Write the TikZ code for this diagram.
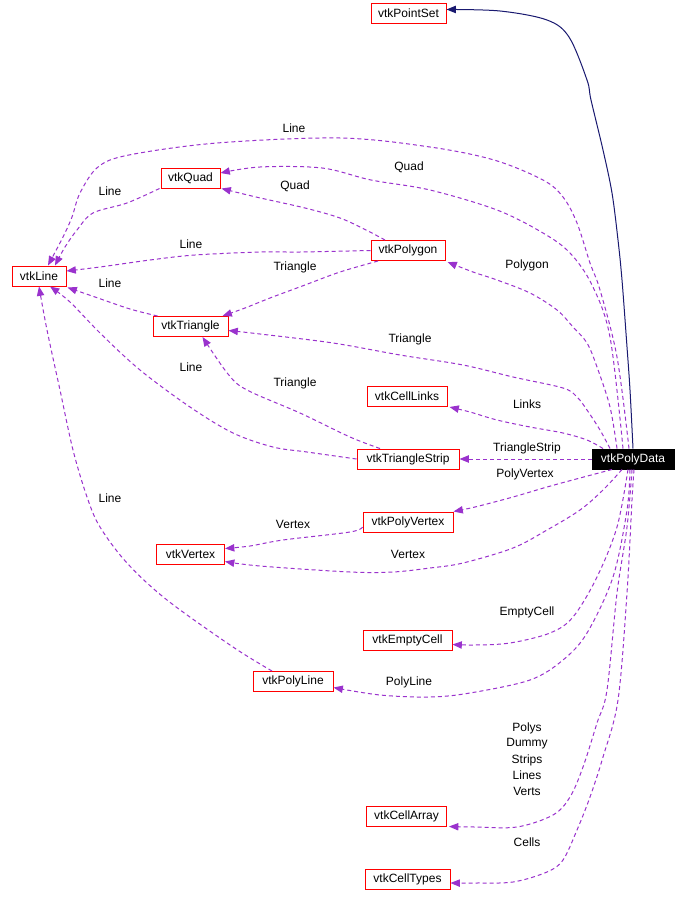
\documentclass[tikz,border=0pt]{standalone}
\usepackage{fontspec}
\setmainfont{Liberation Sans}
\usetikzlibrary{arrows.meta,calc}
\definecolor{edgepurple}{HTML}{9A32CD}
\definecolor{inhnavy}{HTML}{191970}
\begin{document}
\begin{tikzpicture}[x=0.75pt,y=-0.75pt,
  every node/.style={font=\fontsize{9}{11}\selectfont},
  cls/.style={draw=red, line width=0.75pt, minimum height=15pt, inner sep=0pt, fill=white},
  lbl/.style={inner sep=0pt},
  dep/.style={draw=edgepurple, line width=0.75pt, dash pattern=on 3pt off 2.25pt,
    -{Triangle[length=7pt,width=5.5pt,fill=edgepurple]}},
  inh/.style={draw=inhnavy, line width=0.75pt,
    -{Triangle[length=7pt,width=5.5pt,fill=inhnavy]}},
  smoothline/.style={smooth, tension=0.55}
]
\fill[white] (0,0) rectangle (685,906);
\useasboundingbox (0,0) rectangle (685,906);

% class nodes
\node[cls, minimum width=56.25pt] (ps) at (408.5,13.5) {vtkPointSet};
\node[cls, minimum width=44.25pt] (quad) at (190.5,178) {vtkQuad};
\node[cls, minimum width=40.5pt] (line) at (39,276) {vtkLine};
\node[cls, minimum width=55.5pt] (polygon) at (408,250.5) {vtkPolygon};
\node[cls, minimum width=56.25pt] (tri) at (190.5,326.5) {vtkTriangle};
\node[cls, minimum width=60pt] (links) at (407,396.5) {vtkCellLinks};
\node[cls, minimum width=76.5pt] (strip) at (408,459) {vtkTriangleStrip};
\node[cls, draw=black, fill=black, text=white, minimum width=61.5pt] (pd) at (633,459) {vtkPolyData};
\node[cls, minimum width=67.5pt] (pv) at (408,522) {vtkPolyVertex};
\node[cls, minimum width=51pt] (vertex) at (190.5,554.5) {vtkVertex};
\node[cls, minimum width=66.75pt] (empty) at (407.5,640.5) {vtkEmptyCell};
\node[cls, minimum width=60pt] (pl) at (293,681.5) {vtkPolyLine};
\node[cls, minimum width=60pt] (ca) at (406.5,816) {vtkCellArray};
\node[cls, minimum width=63.75pt] (ct) at (407.5,879) {vtkCellTypes};

% inheritance
\draw[inh] plot[smoothline] coordinates {(pd.north) (630,390) (627,347) (622,280) (618,240) (612,193) (603,150) (591,100) (587,80) (569,37) (547,20) (500,11) ($(ps.east)+(0,-4)$)};

% usage edges from vtkPolyData
\draw[dep] plot[smoothline] coordinates {($(pd.north)+(-4,0)$) (617,357) (600,290) (590,263) (577,223) (563,197) (543,180) (494,160) (430,147) (340,138) (217,143) (129,155) (98,167) (80,193) (72,217) (63,237) ($(line.north)+(9,0)$)};
\draw[dep] plot[smoothline] coordinates {($(pd.north)+(-10,0)$) (610,337) (592,285) (570,253) (543,233) (497,210) (430,190) (371,180) (322,168) (260,167) ($(quad.east)+(0,-5)$)};
\draw[dep] plot[smoothline] coordinates {($(pd.north)+(-16,0)$) (610,407) (597,367) (587,343) (573,327) (557,310) (530,293) (497,280) (473,272) ($(polygon.south east)+(2,1)$)};
\draw[dep] plot[smoothline] coordinates {($(pd.north)+(-23,0)$) (600,430) (587,410) (577,397) (563,388) (513,377) (463,365) (400,355) (333,343) (260,334) ($(tri.east)+(0,4)$)};
\draw[dep] plot[smoothline] coordinates {($(pd.north)+(-30,0)$) (587,440) (563,433) (530,427) (497,420) (470,412) ($(links.south east)+(2,0)$)};
\draw[dep] (pd.west) -- (strip.east);
\draw[dep] plot[smoothline] coordinates {($(pd.south)+(-21,0)$) (580,478) (547,487) (513,497) (475,507) (pv.north east)};
\draw[dep] plot[smoothline] coordinates {($(pd.south)+(-11,0)$) (603,490) (580,510) (547,530) (513,548) (463,563) (430,568) (393,572) (350,572) (260,566) ($(vertex.east)+(0,7)$)};
\draw[dep] plot[smoothline] coordinates {($(pd.south)+(-5,0)$) (617,527) (597,577) (573,617) (550,633) (510,643) (475,645) ($(empty.east)+(0,4)$)};
\draw[dep] plot[smoothline] coordinates {($(pd.south)+(-3,0)$) (627,510) (613,577) (587,633) (563,660) (530,680) (470,693) (430,697) (380,695) ($(pl.east)+(0,6)$)};
\draw[dep] plot[smoothline] coordinates {($(pd.south)+(-1,0)$) (627,527) (617,593) (607,690) (597,723) (583,767) (570,797) (553,815) (517,827) (475,827) ($(ca.south east)+(2,0)$)};
\draw[dep] plot[smoothline] coordinates {($(pd.south)+(1,0)$) (632,500) (627,593) (618,700) (603,757) (590,797) (577,830) (563,860) (547,872) (513,882) (475,883) ($(ct.east)+(0,4)$)};

% edges between cells
\draw[dep] plot[smoothline] coordinates {($(quad.south west)+(-1,0)$) (127,203) (93,213) (77,230) (65,247) ($(line.north)+(16,0)$)};
\draw[dep] plot[smoothline] coordinates {($(polygon.north)+(-23,0)$) (366,230) (340,218) (305,208) (256,197) ($(quad.south east)+(1,0)$)};
\draw[dep] plot[smoothline] coordinates {(polygon.west) (300,252) (261,252) (195,255) (150,260) (100,267) ($(line.east)+(0,-5)$)};
\draw[dep] plot[smoothline] coordinates {($(polygon.south)+(-30,0)$) (340,272) (305,285) (270,298) (245,308) ($(tri.north east)+(-6,0)$)};
\draw[dep] plot[smoothline] coordinates {($(tri.north west)+(5,0)$) (130,309) (95,297) ($(line.south east)+(1,1)$)};
\draw[dep] plot[smoothline] coordinates {($(strip.north)+(-28,0)$) (350,437) (300,413) (247,390) (228,374) ($(tri.south)+(12,0)$)};
\draw[dep] plot[smoothline] coordinates {(strip.west) (307,452) (273,447) (233,433) (190,407) (140,370) (100,333) (70,302) ($(line.south)+(11,0)$)};
\draw[dep] plot[smoothline] coordinates {($(pv.west)+(0,5)$) (350,532) (283,540) (250,546) ($(vertex.east)+(0,-6)$)};
\draw[dep] plot[smoothline] coordinates {($(pl.north)+(-21,0)$) (233,647) (167,600) (127,563) (100,527) (87,497) (73,450) (60,390) (47,330) (line.south)};

% labels
\node[lbl] (t1) at (294,128) {Line};
\node[lbl] (t2) at (409,167) {Quad};
\node[lbl] (t3) at (110,191) {Line};
\node[lbl] (t4) at (295,186) {Quad};
\node[lbl] (t5) at (191,244) {Line};
\node[lbl] (t6) at (295,267) {Triangle};
\node[lbl] (t7) at (527,265) {Polygon};
\node[lbl] (t8) at (110,283) {Line};
\node[lbl] (t9) at (410,339) {Triangle};
\node[lbl] (t10) at (191,367) {Line};
\node[lbl] (t11) at (295,383) {Triangle};
\node[lbl] (t12) at (527,404) {Links};
\node[lbl] (t13) at (527,448) {TriangleStrip};
\node[lbl] (t14) at (525,474) {PolyVertex};
\node[lbl] (t15) at (110,498) {Line};
\node[lbl] (t16) at (293,524) {Vertex};
\node[lbl] (t17) at (408,554) {Vertex};
\node[lbl] (t18) at (527,612) {EmptyCell};
\node[lbl] (t19) at (409,682) {PolyLine};
\node[lbl] (t20) at (527,728) {Polys};
\node[lbl] (t21) at (527,744) {Dummy};
\node[lbl] (t22) at (527,760) {Strips};
\node[lbl] (t23) at (527,775) {Lines};
\node[lbl] (t24) at (527,791) {Verts};
\node[lbl] (t25) at (527,842) {Cells};
\end{tikzpicture}
\end{document}
